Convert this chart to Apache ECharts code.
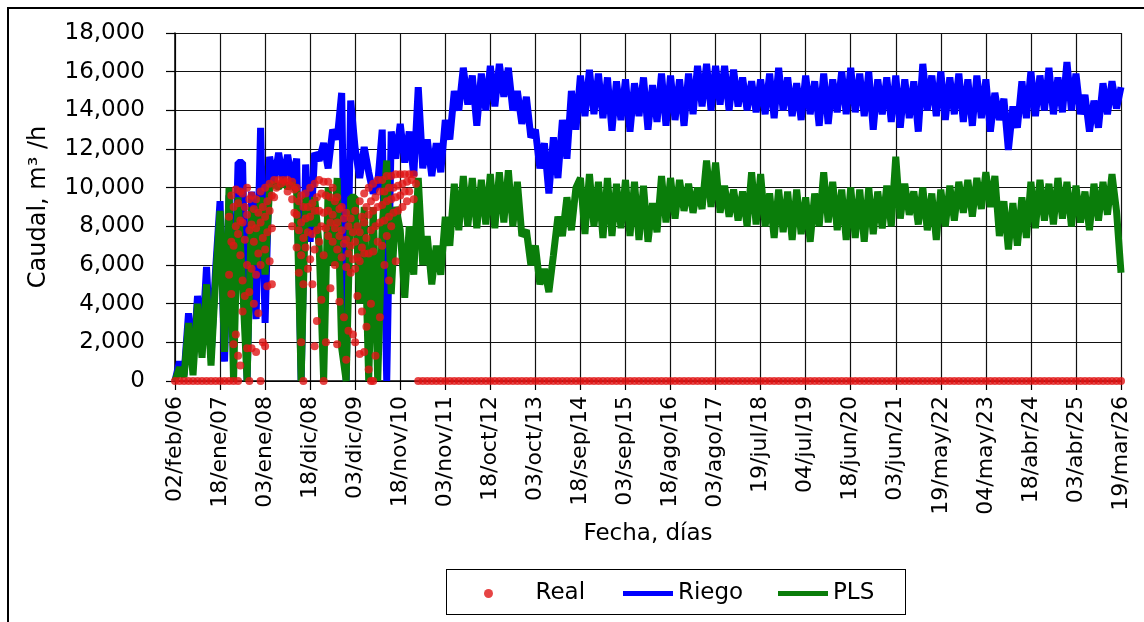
<!DOCTYPE html>
<html>
<head>
<meta charset="utf-8">
<script src="https://cdn.jsdelivr.net/npm/echarts@6/dist/echarts.min.js"></script>
<style>
  body { margin: 0; background: #fff; }
  #wrap { position: relative; width: 1144px; height: 622px; overflow: hidden; }
  #chart { width: 1144px; height: 622px; }
  #frame { position: absolute; left: 7px; top: 7px; width: 1200px; height: 700px;
           border-top: 2px solid #000; border-left: 2px solid #000; pointer-events: none; }
  #legendBox { position: absolute; left: 446px; top: 569px; width: 458px; height: 44px;
               border: 1.5px solid #000; pointer-events: none; }
</style>
</head>
<body>
<div id="wrap">
  <div id="chart"></div>
  <div id="frame"></div>
  <div id="legendBox"></div>
</div>
<script>
// eje X: una etiqueta cada 350 días desde 02/feb/06
var tickLabels = ['02/feb/06', '18/ene/07', '03/ene/08', '18/dic/08', '03/dic/09', '18/nov/10',
  '03/nov/11', '18/oct/12', '03/oct/13', '18/sep/14', '03/sep/15', '18/ago/16', '03/ago/17',
  '19/jul/18', '04/jul/19', '18/jun/20', '03/jun/21', '19/may/22', '04/may/23', '18/abr/24',
  '03/abr/25', '19/mar/26'];
var tickDays = 350;
var stepDays = 35; // un valor cada 35 días

// Riego (m3/h)
var riego = [
  0, 1000, 300, 3500, 800, 4400, 1800, 5900, 1200, 5700,
  9300, 1000, 9600, 2500, 11300, 11300, 0, 9800, 3200, 13100,
  3000, 11600, 10300, 11800, 10400, 11700, 10300, 11500, 0, 11200,
  7200, 11800, 11400, 12300, 11000, 13000, 12500, 14900, 0, 14500,
  12000, 10500, 12100, 10800, 9700, 10200, 13000, 0, 12900, 11500,
  13300, 11300, 12900, 10600, 15200, 11000, 12500, 10600, 12300, 10800,
  13500, 12500, 15000, 14000, 16200, 14300, 15800, 13200, 15900, 14000,
  16300, 14200, 16400, 14700, 16200, 14000, 15000, 13300, 14700, 12600,
  13000, 11000, 12300, 9700, 12600, 10500, 13500, 11500, 15000, 13000,
  15800, 13700, 16100, 13800, 15900, 13600, 15700, 12950, 15500, 13500,
  15600, 12900, 15400, 13700, 15700, 13000, 15300, 13400, 15900, 13200,
  15800, 13500, 15600, 13200, 15900, 13800, 16300, 14200, 16400, 14000,
  16300, 14300, 16300, 14000, 16100, 14200, 15700, 14000, 15500, 13900,
  15600, 13800, 15900, 13600, 16200, 14000, 15700, 13700, 15400, 13500,
  15800, 13800, 15500, 13200, 15900, 13300, 15600, 13900, 16000, 13800,
  16200, 13900, 15900, 13700, 16000, 13000, 15600, 13800, 15700, 13400,
  15800, 13100, 15600, 13600, 15500, 12900, 16400, 14000, 15800, 13700,
  16000, 13500, 15700, 13800, 15900, 13400, 15600, 13200, 15800, 13600,
  15600, 12900, 14900, 13500, 14600, 11950, 14200, 13100, 15500, 13600,
  16000, 13700, 15800, 14000, 16200, 13800, 15700, 13900, 16500, 14000,
  15900, 13800, 14800, 12900, 14500, 13100, 15400, 13800, 15500, 14100,
  15200
];

// PLS (m3/h)
var pls = [
  0, 700, 200, 3000, 300, 4000, 1200, 5000, 800, 5200,
  8800, 1500, 10000, 0, 9500, 5000, 0, 9000, 6000, 9500,
  5500, 10000, 10200, 10000, 10300, 10000, 10200, 9800, 0, 9500,
  8000, 9500, 7000, 0, 10000, 6000, 10500, 1700, 0, 9500,
  9500, 4000, 9000, 0, 9000, 0, 8000, 11400, 4500, 9000,
  7800, 4300, 8000, 5500, 10500, 6000, 7500, 5000, 7000, 5500,
  8500, 7000, 10200, 7800, 10600, 8000, 10500, 7900, 10400, 8100,
  10700, 7900, 10800, 8200, 10900, 8000, 10300, 7500, 7800, 6000,
  7000, 5000, 5800, 4600, 6500, 8500, 7500, 9500, 7800, 10000,
  10500, 7600, 10700, 8000, 10300, 7400, 10500, 7500, 10200, 7900,
  10400, 7500, 10300, 7300, 10100, 7200, 9200, 7700, 10600, 8200,
  10500, 8400, 10400, 8800, 10200, 8700, 10000, 8900, 11400, 9000,
  11300, 8700, 10100, 8500, 9900, 8300, 9800, 8000, 10800, 8100,
  10700, 8000, 9700, 7400, 9900, 7700, 9800, 7300, 9900, 7600,
  9500, 7200, 9700, 8000, 10800, 8200, 10300, 7800, 9900, 7300,
  10000, 7400, 9900, 7200, 10000, 7600, 9800, 7900, 10100, 8000,
  11600, 8400, 10200, 8600, 9800, 8100, 10000, 7800, 9700, 7300,
  9900, 8000, 10100, 8300, 10300, 8700, 10400, 8500, 10500, 8900,
  10800, 9000, 10600, 7500, 9300, 6800, 9200, 7000, 9500, 7400,
  10300, 7900, 10400, 8300, 10200, 8100, 10500, 8400, 10300, 8000,
  10100, 8200, 9800, 7800, 10200, 8300, 10300, 8600, 10700, 8800,
  5600
];

// Real (m3/h): varias lecturas por tramo de 35 días
var real = [
  0, 0, 0, 0, 0, 0, 0, 0, 0, 0,
  0, 0, [0, 9600, 8500, 7200, 5500, 4500], [0, 9900, 9000, 8000, 7000, 2400, 1900],
  [0, 9800, 9200, 8300, 7600, 6500, 1300, 800], [9700, 9000, 8200, 7300, 5200, 4400, 3600],
  [10000, 9400, 8600, 7800, 6000, 4600, 1700, 0], [9600, 8900, 8100, 7200, 5800, 4000, 1700],
  [9400, 8700, 7900, 6600, 5500, 3500, 1500], [9800, 9000, 8200, 7400, 6000, 2000, 0],
  [10000, 9300, 8500, 7700, 6800, 4900, 1800], [10200, 9600, 8800, 7900, 6200, 5000],
  [10400, 10000, 9500], [10400, 10200], [10400, 10300], [10400, 10100, 9800],
  [10300, 9900, 9400, 8700, 8000], [10000, 9300, 8600, 7800, 6900, 5600],
  [9600, 9000, 8200, 7400, 6500, 5000, 2000, 0], [9700, 9000, 8400, 7700, 6900, 5800],
  [10000, 9200, 8500, 7600, 6300, 5000], [10200, 9500, 8800, 7800, 6800, 3100, 1800],
  [10400, 9700, 8800, 8000, 7200, 4200], [10300, 9600, 8700, 7900, 6500, 2000, 0],
  [10300, 9500, 8800, 8200, 7500, 4800], [10000, 9300, 8600, 7900, 7200, 6000],
  [9500, 8900, 8200, 7500, 6800, 4100, 1900], [9000, 8400, 7800, 7100, 6400, 3300],
  [8700, 8000, 7300, 6600, 5900, 2600, 1100], [8400, 7700, 7000, 6300, 5600, 2400],
  [8800, 8000, 7200, 6400, 5800, 4400, 2000], [9300, 8500, 7700, 6900, 6200, 3600, 1400],
  [9700, 9000, 8200, 7400, 6600, 2800, 1500], [10000, 9300, 8600, 7800, 6600, 4000, 600, 0],
  [10200, 9500, 8800, 8000, 6700, 1300, 0], [10400, 9800, 9000, 8200, 7200, 3300],
  [10400, 9800, 9100, 8300, 7000, 6000], [10600, 10000, 9300, 8500, 7500, 5200],
  [10600, 10000, 9400, 8700, 8000], [10700, 10100, 9500, 8800, 6200],
  [10700, 10200, 9600, 9000], [10700, 10300, 9800, 9300], [10700, 10400, 9800], [10700, 10200, 9400],
  0, 0, 0, 0, 0, 0,
  0, 0, 0, 0, 0, 0, 0, 0, 0, 0,
  0, 0, 0, 0, 0, 0, 0, 0, 0, 0,
  0, 0, 0, 0, 0, 0, 0, 0, 0, 0,
  0, 0, 0, 0, 0, 0, 0, 0, 0, 0,
  0, 0, 0, 0, 0, 0, 0, 0, 0, 0,
  0, 0, 0, 0, 0, 0, 0, 0, 0, 0,
  0, 0, 0, 0, 0, 0, 0, 0, 0, 0,
  0, 0, 0, 0, 0, 0, 0, 0, 0, 0,
  0, 0, 0, 0, 0, 0, 0, 0, 0, 0,
  0, 0, 0, 0, 0, 0, 0, 0, 0, 0,
  0, 0, 0, 0, 0, 0, 0, 0, 0, 0,
  0, 0, 0, 0, 0, 0, 0, 0, 0, 0,
  0, 0, 0, 0, 0, 0, 0, 0, 0, 0,
  0, 0, 0, 0, 0, 0, 0, 0, 0, 0,
  0, 0, 0, 0, 0, 0, 0, 0, 0, 0,
  0
];

var font = 'DejaVu Sans';
var barIcon = 'path://M0,0H50V5H0Z'; // línea gruesa de la leyenda

function toPairs(arr) {
  return arr.map(function (v, i) { return [i * stepDays, v]; });
}
// las lecturas de cada tramo van en dos columnas dentro de sus 35 días
var realData = [];
real.forEach(function (item, i) {
  [].concat(item).forEach(function (v, k) {
    realData.push([i * stepDays + (k % 2) * stepDays / 2, v]);
  });
});

function legendItem(name, icon, left, textPad) {
  return {
    data: [{ name: name, icon: icon }],
    left: left, top: 582, padding: 0,
    itemWidth: 50, itemHeight: 9, itemGap: 0,
    textStyle: { fontSize: 23, fontFamily: font, color: '#000', padding: [0, 0, 0, textPad] }
  };
}

var myChart = echarts.init(document.getElementById('chart'));
var option = {
  animation: false,
  backgroundColor: '#fff',
  textStyle: { fontFamily: font, color: '#000' },
  grid: { left: 175, right: 23, top: 33, bottom: 241 },
  legend: [
    legendItem('Real', 'circle', 484, 17),
    legendItem('Riego', barIcon, 623, 0),
    legendItem('PLS', barIcon, 778, 0)
  ],
  xAxis: {
    type: 'value', min: 0, max: tickDays * (tickLabels.length - 1), interval: tickDays,
    axisLine: { lineStyle: { color: '#000', width: 1.5 } },
    axisTick: { show: true, length: 9, lineStyle: { color: '#000', width: 1.2 } },
    axisLabel: {
      rotate: 90, margin: 15, fontSize: 22, fontFamily: font, color: '#000',
      showMinLabel: true, showMaxLabel: true,
      formatter: function (v) { return tickLabels[Math.round(v / tickDays)]; }
    },
    splitLine: { show: true, lineStyle: { color: '#111', width: 1.2 } },
    name: 'Fecha, días', nameLocation: 'middle', nameGap: 131,
    nameTextStyle: { fontSize: 23, fontFamily: font, color: '#000' }
  },
  yAxis: {
    type: 'value', min: 0, max: 18000, interval: 2000,
    axisLine: { show: true, lineStyle: { color: '#000', width: 1.5 } },
    axisTick: { show: true, length: 9, lineStyle: { color: '#000', width: 1.2 } },
    axisLabel: {
      margin: 30, fontSize: 23, fontFamily: font, color: '#000',
      formatter: function (v) { return v.toLocaleString('en-US'); }
    },
    splitLine: { show: true, lineStyle: { color: '#111', width: 1.2 } },
    name: 'Caudal, m³ /h', nameLocation: 'middle', nameGap: 124,
    nameTextStyle: { fontSize: 24, fontFamily: font, color: '#000' }
  },
  series: [
    {
      name: 'Real', type: 'scatter', z: 4,
      symbol: 'circle', symbolSize: 8,
      itemStyle: { color: '#e01515' },
      data: realData
    },
    {
      name: 'Riego', type: 'line', z: 2,
      symbol: 'none',
      lineStyle: { color: '#0000ff', width: 7 },
      itemStyle: { color: '#0000ff' },
      data: toPairs(riego)
    },
    {
      name: 'PLS', type: 'line', z: 3,
      symbol: 'none',
      lineStyle: { color: '#0a7d0a', width: 7 },
      itemStyle: { color: '#0a7d0a' },
      data: toPairs(pls)
    }
  ]
};
myChart.setOption(option);
</script>
</body>
</html>
